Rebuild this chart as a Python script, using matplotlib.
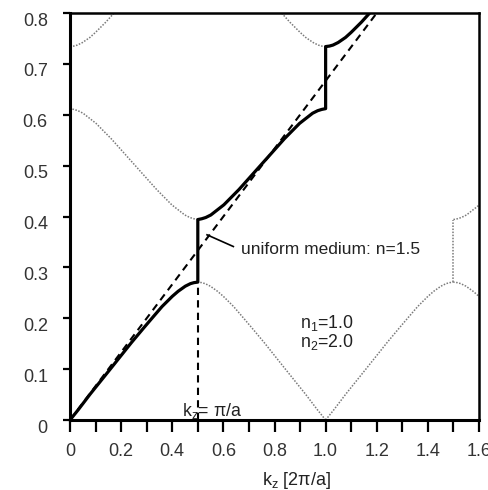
import numpy as np
import matplotlib
matplotlib.use("Agg")
import matplotlib.pyplot as plt
from matplotlib.transforms import ScaledTranslation

plt.rcParams['font.family'] = ['Liberation Sans', 'DejaVu Sans']
plt.rcParams['mathtext.default'] = 'regular'

# band values (k in 2pi/a, normalised frequency)
band1_k = [0, 0.032, 0.079, 0.159, 0.240, 0.290, 0.324, 0.360, 0.400, 0.423, 0.451, 0.471, 0.485, 0.5]
band1_f = [0, 0.020, 0.051, 0.101, 0.152, 0.182, 0.202, 0.223, 0.243, 0.253, 0.263, 0.268, 0.270, 0.271]

band2_k = [0.5, 0.515, 0.531, 0.551, 0.602, 0.661, 0.75, 0.839, 0.898, 0.949, 0.969, 0.985, 1.0]
band2_f = [0.394, 0.3955, 0.398, 0.403, 0.423, 0.453, 0.503, 0.553, 0.583, 0.603, 0.608, 0.6105, 0.612]

band3_k = [1.0, 1.015, 1.029, 1.049, 1.078, 1.100, 1.140, 1.176, 1.210, 1.260]
band3_f = [0.734, 0.735, 0.737, 0.742, 0.752, 0.762, 0.782, 0.802, 0.822, 0.852]

uniform_n = 1.5
uniform_k = [0, 1.2]

xticks = [0, 0.2, 0.4, 0.6, 0.8, 1.0, 1.2, 1.4, 1.6]
xticklabels = ['0', '0.2', '0.4', '0.6', '0.8', '1.0', '1.2', '1.4', '1.6']
yticks = [0, 0.1, 0.2, 0.3, 0.4, 0.5, 0.6, 0.7, 0.8]
yticklabels = ['0', '0.1', '0.2', '0.3', '0.4', '0.5', '0.6', '0.7', '0.8']

b1k, b1f = np.array(band1_k), np.array(band1_f)
b2k, b2f = np.array(band2_k), np.array(band2_f)
b3k, b3f = np.array(band3_k), np.array(band3_f)

fig = plt.figure(figsize=(4.89, 4.90), dpi=100)
ax = fig.add_axes([70/489, 70/490, 409/489, 407/490])

dot = dict(color='#7a7a7a', lw=1.1, ls=(0, (1, 1)))
# folded copies of the bands (dotted)
ax.plot(1 - b1k, b1f, **dot)
ax.plot(1 + b1k, b1f, **dot)
ax.plot(2 - b1k, b1f, **dot)
ax.plot(1 - b2k, b2f, **dot)
ax.plot(1 + b2k, b2f, **dot)
ax.plot(b3k - 1, b3f, **dot)
ax.plot(2 - b3k, b3f, **dot)
ax.plot([1.5, 1.5], [band1_f[-1], band2_f[0]], **dot)

# uniform medium light line + k = pi/a marker
dash = dict(color='black', lw=1.5, ls=(0, (3.5, 2.5)))
uk = np.array(uniform_k)
ax.plot(uk, uk / uniform_n, **dash)
ax.plot([0.5, 0.5], [0, band1_f[-1]], **dash)

# extended zone band (thick)
ax.plot(np.concatenate([b1k, b2k, b3k]), np.concatenate([b1f, b2f, b3f]),
        color='black', lw=2.3, solid_capstyle='butt', zorder=5)

# annotations
ax.plot([0.536, 0.639], [0.364, 0.341], color='black', lw=1.2)
tc = '#222222'
ax.text(0.669, 0.336, 'uniform medium: n=1.5', fontsize=12.5, color=tc, va='center', ha='left')
ax.text(0.9, 0.191, 'n$_1$=1.0', fontsize=12.8, color=tc, va='center', ha='left')
ax.text(0.9, 0.154, 'n$_2$=2.0', fontsize=12.8, color=tc, va='center', ha='left')
ax.text(0.437, 0.008, 'k$_z$= π/a', fontsize=12.8, color=tc, va='baseline', ha='left')

ax.set_xlim(0, 1.6)
ax.set_ylim(0, 0.8)
ax.set_xticks(xticks)
ax.set_xticklabels(xticklabels)
ax.set_xticks(np.arange(1, 16) / 10, minor=True)
ax.set_yticks(yticks)
ax.set_yticklabels(yticklabels)

ax.tick_params(axis='x', which='both', direction='out', length=8.5, width=1.6,
               labelsize=13, labelcolor='#333333', pad=8)
ax.tick_params(axis='y', direction='out', length=5, width=1.6,
               labelsize=13, labelcolor='#333333', pad=11)
off = ScaledTranslation(0, -6/100, fig.dpi_scale_trans)
for lab in ax.get_yticklabels():
    lab.set_transform(lab.get_transform() + off)

for side in ['left', 'bottom']:
    ax.spines[side].set_linewidth(2.2)
for side in ['top', 'right']:
    ax.spines[side].set_linewidth(1.8)

ax.text(0.555, -0.123, 'k$_z$ [2π/a]', transform=ax.transAxes, fontsize=13,
        color=tc, ha='center', va='top')

fig.savefig('out.png', dpi=100)
